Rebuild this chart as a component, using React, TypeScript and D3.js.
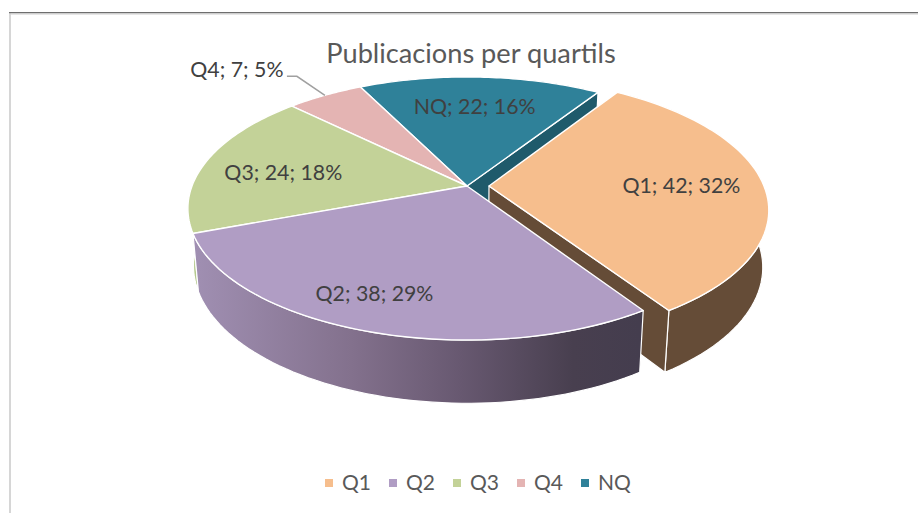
import React from 'react';
import * as d3 from 'd3';

const categories = ['Q1', 'Q2', 'Q3', 'Q4', 'NQ'];
const values = [42, 38, 24, 7, 22];
const percents = [32, 29, 18, 5, 16];
const topColors = ['#F6BE8D', '#B09DC4', '#C3D298', '#E4B4B3', '#2F8199'];
const wallColors = ['#654C37', 'url(#q2Wall)', '#B5C98E', '#B08A8A', '#1F5A6B'];
const title = 'Publicacions per quartils';

const width = 918;
const height = 513;
const font = 'Lato, "Open Sans", sans-serif';

// 3D look: ground plane coordinates pushed through a small perspective
const cx = 467;
const cy = 186;
const scaleX = 275;
const scaleY = 127.7;
const persp = 0.171;
const depth = 56;
const explodeQ1 = 0.08;

type Pt = [number, number];

const project = (X: number, Y: number, bottom = false): Pt => {
  const w = 1 - persp * Y;
  const sx = (scaleX * X) / w;
  const sy = (scaleY * Y) / w;
  return bottom ? [cx + sx * 0.98, cy + depth + sy * 1.047] : [cx + sx, cy + sy];
};

const slices = d3
  .pie<number>()
  .sort(null)
  .startAngle((33 * Math.PI) / 180)
  .endAngle((33 * Math.PI) / 180 + 2 * Math.PI)(values);

const line = d3.line();
const shift = (i: number) => (categories[i] === 'Q1' ? explodeQ1 : 0);

const rimPoint = (angle: number, i: number, r = 1, bottom = false) =>
  project(r * Math.sin(angle) + shift(i), -r * Math.cos(angle), bottom);

const arcPoints = (i: number, bottom = false) => {
  const { startAngle, endAngle } = slices[i];
  return d3.range(0, 61).map(k => rimPoint(startAngle + ((endAngle - startAngle) * k) / 60, i, 1, bottom));
};

const topPath = (i: number) => line([rimPoint(0, i, 0), ...arcPoints(i)]) + 'Z';
const wallPath = (i: number) => line([...arcPoints(i), ...arcPoints(i, true).reverse()]) + 'Z';
const capPath = (i: number, angle: number) =>
  line([rimPoint(0, i, 0), rimPoint(angle, i), rimPoint(angle, i, 1, true), rimPoint(0, i, 0, true)]) + 'Z';

// back to front
const drawOrder = ['NQ', 'Q4', 'Q3', 'Q1', 'Q2'].map(c => categories.indexOf(c));
// only these two cut faces can be seen from the camera
const openCuts = ['NQ', 'Q1'];

const labelRadius = 0.7;
const labelNudge: Pt[] = [[0, 0], [-25, 12], [0, 5], [0, 0], [-2, 0]];
const midAngle = (i: number) => (slices[i].startAngle + slices[i].endAngle) / 2;
const labelText = (i: number) => `${categories[i]}; ${values[i]}; ${percents[i]}%`;

const legendX = d3.scalePoint<string>().domain(categories).range([325, 581]);

export default function App() {
  const q4 = categories.indexOf('Q4');
  const q4Rim = rimPoint(midAngle(q4), q4);

  return (
    <svg
      width={width}
      height={height}
      viewBox={`0 0 ${width} ${height}`}
      style={{ position: 'absolute', left: 0, top: 0, background: '#fff' }}
    >
      <defs>
        <linearGradient id="q2Wall" gradientUnits="userSpaceOnUse" x1={195} x2={640} y1={0} y2={0}>
          <stop offset="0%" stopColor="#A08FB2" />
          <stop offset="35%" stopColor="#83718D" />
          <stop offset="60%" stopColor="#675870" />
          <stop offset="85%" stopColor="#483F4F" />
          <stop offset="100%" stopColor="#443D4E" />
        </linearGradient>
      </defs>

      {/* screenshot frame */}
      <rect x={9} y={13} width={width} height={2} fill="#E6E6E6" />
      <rect x={9} y={13} width={2} height={height} fill="#D6D6D6" />
      <rect x={9} y={12} width={width} height={1.2} fill="#6E6E6E" />

      {drawOrder.map(i => (
        <g key={`wall-${categories[i]}`} stroke="#fff" strokeWidth={1.2} strokeLinejoin="round" fill={wallColors[i]}>
          <path d={wallPath(i)} />
          {openCuts.includes(categories[i]) && <path d={capPath(i, slices[i].endAngle)} />}
        </g>
      ))}

      {drawOrder.map(i => (
        <path
          key={`top-${categories[i]}`}
          d={topPath(i)}
          fill={topColors[i]}
          stroke="#fff"
          strokeWidth={1.4}
          strokeLinejoin="round"
        />
      ))}

      {/* leader for the outside label */}
      <path
        d={line([q4Rim, [q4Rim[0] - 28, q4Rim[1] - 19], [q4Rim[0] - 38, q4Rim[1] - 19]]) ?? ''}
        fill="none"
        stroke="#A0A0A0"
        strokeWidth={1.5}
      />

      {categories.map((c, i) => {
        if (i === q4) {
          return (
            <text key={c} x={q4Rim[0] - 88} y={q4Rim[1] - 26} dy="0.35em" textAnchor="middle" fontFamily={font} fontSize={21.3} fill="#404040">
              {labelText(i)}
            </text>
          );
        }
        const p = rimPoint(midAngle(i), i, labelRadius);
        return (
          <text
            key={c}
            x={p[0] + labelNudge[i][0]}
            y={p[1] + labelNudge[i][1]}
            dy="0.35em"
            textAnchor="middle"
            fontFamily={font}
            fontSize={21.3}
            fill="#404040"
          >
            {labelText(i)}
          </text>
        );
      })}

      <text x={471} y={63} textAnchor="middle" fontFamily={font} fontSize={27.2} fill="#595959">
        {title}
      </text>

      {categories.map((c, i) => (
        <g key={`legend-${c}`} transform={`translate(${legendX(c)},479)`}>
          <rect width={8} height={8} fill={topColors[i]} />
          <text x={17} y={10.5} fontFamily={font} fontSize={21} fill="#595959">
            {c}
          </text>
        </g>
      ))}
    </svg>
  );
}
